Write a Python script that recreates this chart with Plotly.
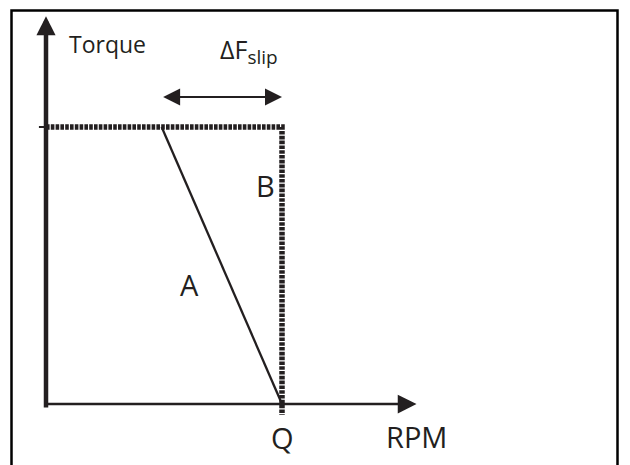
import plotly.graph_objects as go

# Conceptual torque-speed diagram values
rated_torque = 1.0          # torque limit level (dotted horizontal)
sync_speed_q = 1.0          # point Q on the RPM axis
slip_start_speed = 0.49     # where line A leaves the torque limit
rpm_axis_end = 1.57         # RPM axis arrow tip
torque_axis_end = 1.40      # Torque axis arrow tip
slip_arrow_level = 1.108    # height of the ΔF_slip double arrow
axis_overhang = -0.018      # small overhang of axis lines below origin
dotted_overhang = -0.04     # dotted line B drops slightly below RPM axis
tick_left = -0.03           # small tick to the left of torque axis

line_a_x = [slip_start_speed, sync_speed_q]
line_a_y = [rated_torque, 0.0]
line_b_x = [0.0, sync_speed_q, sync_speed_q]
line_b_y = [rated_torque, rated_torque, dotted_overhang]
tick_x = [tick_left, 0.0]
tick_y = [rated_torque, rated_torque]

labels = ["Torque", "ΔF<sub><span style='font-size:19px'>slip</span></sub>",
          "B", "A", "Q", "RPM"]

ink = "#231f20"
font_family = "Open Sans"

fig = go.Figure()

fig.add_trace(go.Scatter(x=line_b_x, y=line_b_y, mode="lines",
                         line=dict(color=ink, width=5.5, dash="3.6px,1.2px"),
                         hoverinfo="skip"))
fig.add_trace(go.Scatter(x=line_a_x, y=line_a_y, mode="lines",
                         line=dict(color=ink, width=2.3), hoverinfo="skip"))
fig.add_trace(go.Scatter(x=tick_x, y=tick_y, mode="lines",
                         line=dict(color=ink, width=2), hoverinfo="skip"))

arrow_common = dict(xref="x", yref="y", axref="x", ayref="y", text="",
                    showarrow=True, arrowcolor=ink, standoff=0, startstandoff=0)

annotations = [
    # RPM axis
    dict(x=rpm_axis_end, y=0.0, ax=-0.008, ay=0.0, arrowhead=2,
         arrowwidth=2.5, arrowsize=1.5, **arrow_common),
    # Torque axis
    dict(x=0.0, y=torque_axis_end, ax=0.0, ay=axis_overhang, arrowhead=2,
         arrowwidth=4.5, arrowsize=0.85, **arrow_common),
    # slip double arrow
    dict(x=sync_speed_q, y=slip_arrow_level, ax=slip_start_speed,
         ay=slip_arrow_level, arrowhead=2, startarrowhead=2, arrowside="end+start",
         arrowwidth=2, arrowsize=1.7, startarrowsize=1.7, **arrow_common),
]

text_specs = [
    (labels[0], 0.26, 1.30, 23),
    (labels[1], 0.86, 1.275, 25),
    (labels[2], 0.93, 0.79, 29),
    (labels[3], 0.61, 0.43, 29),
    (labels[4], sync_speed_q, -0.12, 29),
    (labels[5], rpm_axis_end, -0.118, 29),
]
for txt, x, y, size in text_specs:
    annotations.append(dict(x=x, y=y, xref="x", yref="y", text=txt,
                            showarrow=False, xanchor="center", yanchor="middle",
                            font=dict(family=font_family, size=size, color=ink)))

# page body has an 8px margin; the figure is sized to fill the rest of the window
W, H = 622, 457
ox, oy = 38, 396
sx, sy = 236, 277

fig.update_layout(
    width=W, height=H,
    margin=dict(l=0, r=0, t=0, b=0),
    paper_bgcolor="white", plot_bgcolor="white",
    showlegend=False,
    xaxis=dict(range=[(0 - ox) / sx, (W - ox) / sx], visible=False, fixedrange=True),
    yaxis=dict(range=[(oy - H) / sy, oy / sy], visible=False, fixedrange=True),
    annotations=annotations,
    shapes=[dict(type="rect", xref="paper", yref="paper",
                 x0=3.5 / W, x1=609.5 / W, y0=-0.05, y1=1 - 2.5 / H,
                 line=dict(color="black", width=2.5))],
)

fig.write_html("out.html", config={"displayModeBar": False})
